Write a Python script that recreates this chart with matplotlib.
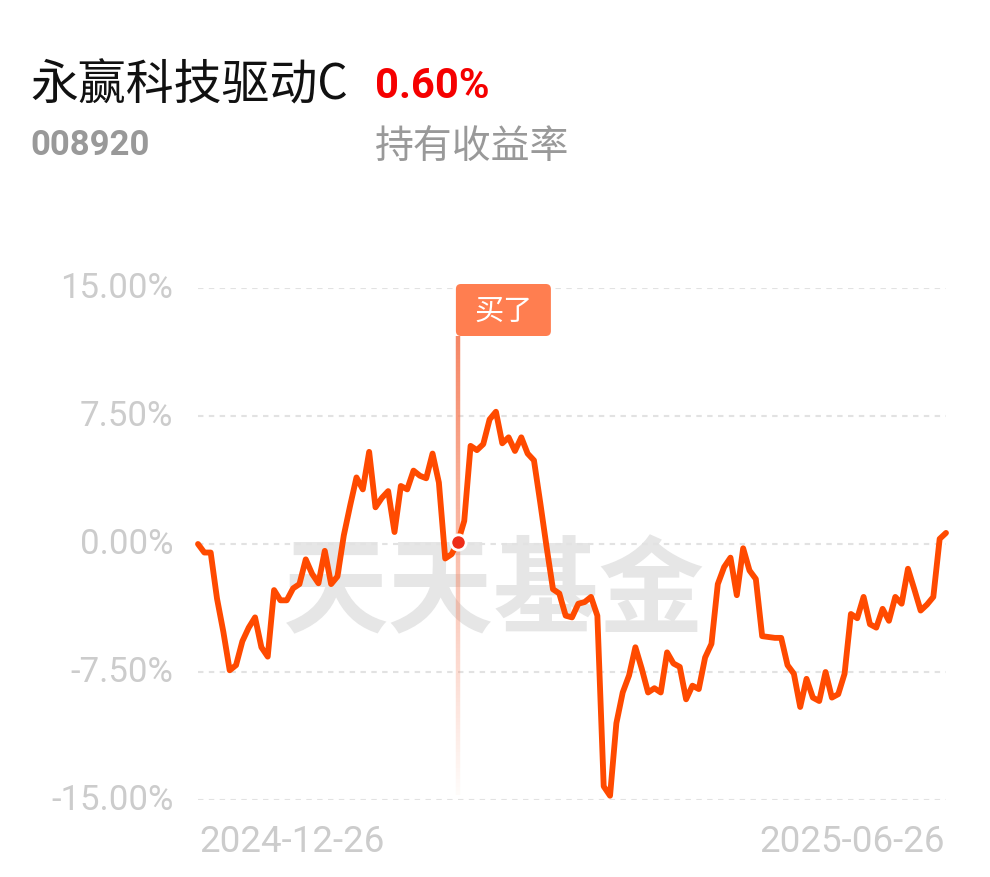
import numpy as np
import matplotlib.pyplot as plt
import matplotlib.transforms as mtransforms
from matplotlib.patches import FancyBboxPatch
from matplotlib.collections import LineCollection

plt.rcParams['font.family'] = ['Noto Sans CJK SC', 'DejaVu Sans']

# data (holding return, %)
fund_name = '永赢科技驱动C'
fund_code = '008920'
total_return = '0.60%'
return_label = '持有收益率'
buy_label = '买了'
start_date = '2024-12-26'
end_date = '2025-06-26'
y_ticks = [15.0, 7.5, 0.0, -7.5, -15.0]

returns = [
    0.0, -0.5, -0.5, -3.2, -5.15, -7.4, -7.1, -5.7, -4.9,
    -4.3, -6.05, -6.6, -2.7, -3.3, -3.3, -2.6, -2.35, -0.9, -1.75,
    -2.3, -0.4, -2.35, -1.9, 0.5, 2.25, 3.9, 3.2, 5.4, 2.15,
    2.7, 3.1, 0.7, 3.4, 3.2, 4.3, 4.0, 3.85, 5.3, 3.6,
    -0.85, -0.6, 0.1, 1.35, 5.75, 5.5, 5.85, 7.3, 7.75, 5.9,
    6.25, 5.45, 6.25, 5.3, 4.9, 2.4, -0.2, -2.65, -2.9, -4.2, -4.3,
    -3.5, -3.4, -3.1, -4.2, -14.2, -14.75, -10.5, -8.7, -7.7, -6.05,
    -7.3, -8.7, -8.45, -8.7, -6.35, -7.0, -7.2, -9.1, -8.3, -8.5,
    -6.65, -5.85, -2.35, -1.35, -0.8, -3.0, -0.25, -1.55, -2.05, -5.4,
    -5.45, -5.5, -5.5, -7.1, -7.6, -9.55, -7.9, -9.0, -9.2, -7.5,
    -9.0, -8.8, -7.6, -4.1, -4.35, -3.1, -4.7, -4.9, -3.8, -4.5,
    -3.1, -3.5, -1.45, -2.65, -3.9, -3.55, -3.1, 0.3, 0.65,
]
buy_index = 41

x = np.arange(len(returns))
y = np.array(returns)

fig = plt.figure(figsize=(9.9, 8.78), dpi=100)
fig.patch.set_facecolor('white')

# header
fig.text(30 / 990, 1 - 86 / 878, fund_name, fontsize=34.5, color='#111111', va='center')
fig.text(375 / 990, 1 - 87 / 878, total_return, fontsize=30, color='#F50000',
         fontweight='bold', va='center', family=['Roboto', 'DejaVu Sans'])
fig.text(30 / 990, 1 - 146 / 878, fund_code, fontsize=25, color='#999999',
         fontweight='bold', va='center', family=['Roboto', 'DejaVu Sans'])
fig.text(375 / 990, 1 - 147 / 878, return_label, fontsize=28, color='#999999', va='center')

ax = fig.add_axes([198 / 990, 1 - 801 / 878, 748 / 990, 512 / 878])
ax.set_xlim(0, len(returns) - 1)
ax.set_ylim(-15, 15)
for s in ax.spines.values():
    s.set_visible(False)
ax.set_xticks([])
ax.set_yticks([])

# watermark
ax.text(0.395, 0.405, '天天基金', transform=ax.transAxes, fontsize=76, color='#e6e6e6',
        fontweight='black', ha='center', va='center', zorder=0)

for t in y_ticks:
    ax.axhline(t, color='#e2e2e2', lw=1.5, ls=(0, (2.6, 2.6)), zorder=1)
    ax.text(-0.033, t, f'{t:.2f}%', transform=ax.get_yaxis_transform(), ha='right',
            va='center', fontsize=25, color='#cccccc', family=['Roboto', 'DejaVu Sans'])

ax.text(0.002, -0.08, start_date, transform=ax.transAxes, ha='left', va='center',
        fontsize=26.5, color='#cccccc', family=['Roboto', 'DejaVu Sans'])
ax.text(0.999, -0.08, end_date, transform=ax.transAxes, ha='right', va='center',
        fontsize=26.5, color='#cccccc', family=['Roboto', 'DejaVu Sans'])

# fading buy marker line
top, bottom = 12.2, -14.7
ys = np.linspace(top, bottom, 120)
segs = [[(buy_index, ys[i]), (buy_index, ys[i + 1])] for i in range(len(ys) - 1)]
alphas = np.linspace(0.95, 0.03, len(segs))
cols = [(0.96, 0.50, 0.36, a) for a in alphas]
ax.add_collection(LineCollection(segs, colors=cols, linewidths=3.2, zorder=2))

# label box
trans = fig.dpi_scale_trans + mtransforms.ScaledTranslation(buy_index, 15, ax.transData)
box = FancyBboxPatch((-0.02, -0.48), 0.95, 0.52, boxstyle='round,pad=0,rounding_size=0.05',
                     fc='#FF7E50', ec='none', transform=trans, zorder=5, clip_on=False)
ax.add_patch(box)
ax.text(0.455, -0.225, buy_label, transform=trans, ha='center', va='center',
        fontsize=21, color='white', zorder=6)

ax.plot(x, y, color='#FF4A00', lw=4.2, solid_joinstyle='round', solid_capstyle='round',
        zorder=3, clip_on=False)
ax.plot(buy_index, returns[buy_index], 'o', ms=11, mfc='#EE2E1A', mec='white', mew=2, zorder=4)

fig.savefig('out.png', dpi=100, facecolor='white')
